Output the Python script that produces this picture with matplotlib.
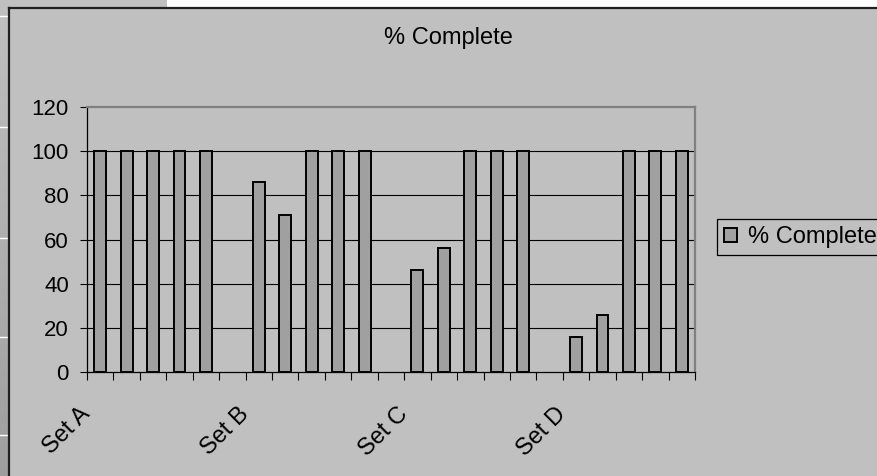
import numpy as np
import matplotlib
matplotlib.use('Agg')
import matplotlib.pyplot as plt
import matplotlib.transforms as mtransforms
from matplotlib.patches import Rectangle
from matplotlib.lines import Line2D

plt.rcParams['font.family'] = ['Liberation Sans', 'DejaVu Sans']

# one slot per row of the sheet; None = blank row between the sets
labels = ['Set A', '', '', '', '', '',
          'Set B', '', '', '', '', '',
          'Set C', '', '', '', '', '',
          'Set D', '', '', '', '']
values = [100, 100, 100, 100, 100, None,
          86, 71, 100, 100, 100, None,
          46, 56, 100, 100, 100, None,
          16, 26, 100, 100, 100]
series_name = '% Complete'
y_ticks = [0, 20, 40, 60, 80, 100, 120]

W, H = 877, 476
BG = '#c0c0c0'
BAR = '#a0a0a0'

fig = plt.figure(figsize=(W / 100, H / 100), dpi=100)
fig.patch.set_facecolor(BG)

# spreadsheet bits around the chart object
strip = fig.add_axes([0, 0, 8 / W, 1 - 8 / H])
strip.imshow(np.linspace(0.75, 0.62, 200).reshape(-1, 1), cmap='gray',
             vmin=0, vmax=1, aspect='auto', extent=[0, 1, 0, 1])
strip.set_axis_off()
for yy in [16, 127, 238, 337, 435]:
    fig.add_artist(Line2D([0, 7 / W], [1 - yy / H] * 2, color='white', lw=1))
fig.add_artist(Rectangle((167 / W, 1 - 7 / H), 1, 7 / H, color='white',
                         transform=fig.transFigure, lw=0))
fig.add_artist(Line2D([8.5 / W, 1], [1 - 7.5 / H] * 2, color='#202020', lw=1.6))
fig.add_artist(Line2D([8.5 / W] * 2, [0, 1 - 7.5 / H], color='#202020', lw=1.6))

ax = fig.add_axes([87 / W, 1 - 372 / H, (695 - 87) / W, (372 - 107) / H])
ax.set_facecolor(BG)

x = np.arange(len(values))
xs = [i for i, v in zip(x, values) if v is not None]
hs = [v for v in values if v is not None]
bars = ax.bar(xs, hs, width=0.45, color=BAR, edgecolor='black', lw=1.4,
              label=series_name, zorder=3)

ax.set_xlim(-0.5, len(values) - 0.5)
ax.set_ylim(0, 120)
ax.set_yticks(y_ticks)
ax.set_yticklabels([str(t) for t in y_ticks])
for t in y_ticks[1:-1]:
    ax.axhline(t, color='black', lw=0.8, zorder=1)

ax.set_xticks(x)
ax.set_xticklabels(labels, rotation=45, ha='right', va='center',
                   rotation_mode='anchor')
ax.set_xticks(np.arange(len(values) + 1) - 0.5, minor=True)
ax.tick_params(axis='x', which='major', length=0, pad=28, labelsize=17)
ax.tick_params(axis='x', which='minor', length=5.5, width=0.8, color='black')
ax.tick_params(axis='y', length=5, width=0.8, pad=8, labelsize=16)
shift = mtransforms.ScaledTranslation(-0.13, 0, fig.dpi_scale_trans)
for lab in ax.get_xticklabels():
    lab.set_transform(lab.get_transform() + shift)

for s in ['left', 'bottom']:
    ax.spines[s].set_color('black')
    ax.spines[s].set_linewidth(0.9)
for s in ['top', 'right']:
    ax.spines[s].set_color('#808080')
    ax.spines[s].set_linewidth(1.6)

fig.text(448 / W, 1 - 44 / H, '% Complete', ha='center', va='baseline',
         fontsize=17)

leg = fig.legend(handles=[bars], labels=[series_name], loc='upper left',
                 bbox_to_anchor=(717 / W, 1 - 219 / H), fontsize=17,
                 fancybox=False, framealpha=1, facecolor=BG,
                 edgecolor='black', handlelength=0.55, handleheight=0.55,
                 handletextpad=0.45, borderpad=0.3, borderaxespad=0)
leg.get_frame().set_linewidth(0.9)

fig.savefig('out.png', dpi=100, facecolor=BG)
